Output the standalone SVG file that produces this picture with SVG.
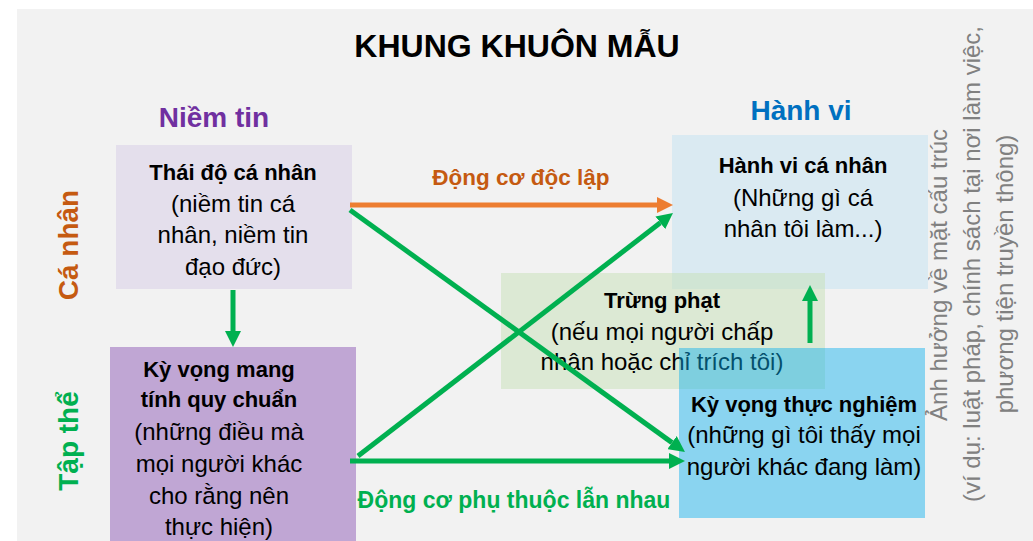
<svg xmlns="http://www.w3.org/2000/svg" width="1033" height="541" viewBox="0 0 1033 541">
<defs>
<style>
text{font-family:"Liberation Sans","Noto Sans",sans-serif;}
.b{font-weight:bold;font-size:22px;fill:#000;text-anchor:middle;}
.r{font-size:24px;fill:#000;text-anchor:middle;}
.side{font-size:24px;fill:#808080;text-anchor:middle;}
.lbl{font-weight:bold;font-size:28px;text-anchor:middle;}
.g{stroke:#00B050;stroke-width:5;fill:none;marker-end:url(#ag);}
.o{stroke:#ED7D31;stroke-width:5;fill:none;marker-end:url(#ao);}
</style>
<marker id="ag" viewBox="0 0 10 10" refX="0" refY="5" markerWidth="3.2" markerHeight="3.2" orient="auto" markerUnits="strokeWidth"><path d="M0,0 L10,5 L0,10 z" fill="#00B050"/></marker>
<marker id="ao" viewBox="0 0 10 10" refX="0" refY="5" markerWidth="3.2" markerHeight="3.2" orient="auto" markerUnits="strokeWidth"><path d="M0,0 L10,5 L0,10 z" fill="#ED7D31"/></marker>
</defs>
<rect x="0" y="0" width="1033" height="541" fill="#FFFFFF"/>
<rect x="17" y="9" width="1016" height="532" fill="#F2F2F2"/>
<text x="517" y="57" font-weight="bold" font-size="32" text-anchor="middle" fill="#000">KHUNG KHUÔN MẪU</text>
<text x="214" y="127" class="lbl" fill="#7030A0">Niềm tin</text>
<text x="801" y="120" class="lbl" font-size="27" fill="#0070C0">Hành vi</text>
<text class="lbl" fill="#C55A11" transform="translate(78,245) rotate(-90)">Cá nhân</text>
<text class="lbl" fill="#00B050" transform="translate(78,441) rotate(-90)">Tập thể</text>
<g id="side-note">
<text class="side" transform="translate(947,275) rotate(-90)">Ảnh hưởng về mặt cấu trúc</text>
<text class="side" transform="translate(980,264) rotate(-90)">(ví dụ: luật pháp, chính sách tại nơi làm việc,</text>
<text class="side" transform="translate(1013,274) rotate(-90)">phương tiện truyền thông)</text>
</g>
<g id="thai-do">
<rect x="116" y="145" width="236" height="144" fill="#E4DFEC"/>
<text x="233" y="180" class="b">Thái độ cá nhân</text>
<text x="233" y="212" class="r">(niềm tin cá</text>
<text x="233" y="243" class="r">nhân, niềm tin</text>
<text x="233" y="275" class="r">đạo đức)</text>
</g>
<g id="ky-vong-quy-chuan">
<rect x="110" y="347" width="246" height="200" fill="#C0A6D4"/>
<text x="219" y="377" class="b">Kỳ vọng mang</text>
<text x="219" y="407" class="b">tính quy chuẩn</text>
<text x="219" y="440" class="r">(những điều mà</text>
<text x="219" y="472" class="r">mọi người khác</text>
<text x="219" y="504" class="r">cho rằng nên</text>
<text x="219" y="535" class="r">thực hiện)</text>
</g>
<g id="hanh-vi">
<rect x="672" y="135" width="256" height="154" fill="#DAEAF2"/>
<text x="803" y="173" class="b">Hành vi cá nhân</text>
<text x="803" y="206" class="r">(Những gì cá</text>
<text x="803" y="237" class="r">nhân tôi làm...)</text>
</g>
<g id="trung-phat">
<rect x="501" y="273" width="324" height="116" fill="#C6E0B6" fill-opacity="0.5"/>
<text x="662" y="308" class="b">Trừng phạt</text>
<text x="662" y="340" class="r">(nếu mọi người chấp</text>
<text x="662" y="370" class="r">nhận hoặc chỉ trích tôi)</text>
</g>
<g id="ky-vong-thuc-nghiem">
<rect x="679" y="348" width="246" height="170" fill="#0BAFEE" fill-opacity="0.45"/>
<text x="804" y="412" class="b">Kỳ vọng thực nghiệm</text>
<text x="804" y="443" class="r">(những gì tôi thấy mọi</text>
<text x="804" y="475" class="r">người khác đang làm)</text>
</g>
<g id="connectors">
<path class="o" d="M350,205 L657,205"/>
<path class="g" d="M350,210 L672,442.6"/>
<path class="g" d="M358,456 L660.3,222.8"/>
<path class="g" d="M350,461 L669,461"/>
<path class="g" d="M233,290 L233,331"/>
<path class="g" d="M810,343 L810,301"/>
<text x="521" y="185" font-weight="bold" font-size="22.5" text-anchor="middle" fill="#C55A11">Động cơ độc lập</text>
<text x="514" y="508" font-weight="bold" font-size="23" text-anchor="middle" fill="#00B050">Động cơ phụ thuộc lẫn nhau</text>
</g>
</svg>
